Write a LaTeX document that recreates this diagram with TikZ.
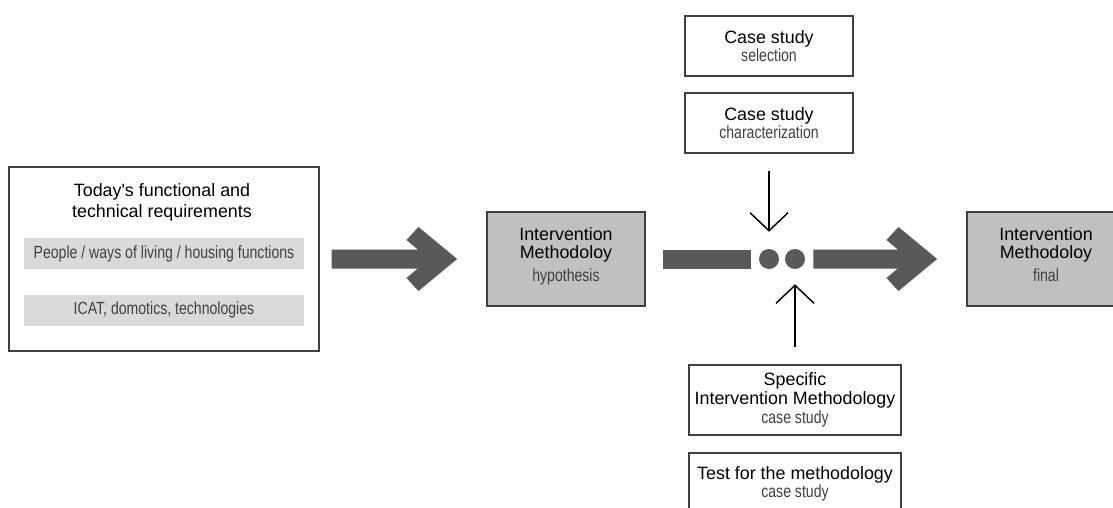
\documentclass[tikz,border=0pt]{standalone}
\usepackage{fontspec}
\setmainfont{Liberation Sans}
\newfontfamily\narrowfont[FakeStretch=0.8]{Liberation Sans}
\usetikzlibrary{arrows.meta, calc}
\definecolor{bordergray}{RGB}{64, 64, 64}
\definecolor{boxgray}{RGB}{192, 192, 192}
\definecolor{bargray}{RGB}{217, 217, 217}
\definecolor{arrowgray}{RGB}{89, 89, 89}
\definecolor{subgray}{RGB}{64, 64, 64}
\newcommand{\headfont}{\fontsize{13.4}{14}\selectfont}
\newcommand{\subfont}{\narrowfont\fontsize{13.2}{14}\selectfont\color{subgray}}

\begin{document}
\begin{tikzpicture}[x=0.75pt, y=-0.75pt,
        box/.style={rectangle, draw=bordergray, line width=0.8pt, align=center, font=\headfont, inner sep=0pt},
        casebox/.style={box, fill=white, minimum width=126pt, minimum height=45pt},
        methbox/.style={box, fill=boxgray, minimum width=118.5pt, minimum height=70.5pt, text depth=7pt},
        bar/.style={rectangle, fill=bargray, minimum width=210pt, minimum height=23.25pt, font=\subfont, inner sep=0pt},
        joint/.style={circle, fill=arrowgray, minimum size=15pt, inner sep=0pt},
        feed/.style={-{Straight Barb[length=13.5pt, width=28.5pt]}, line width=1.1pt},
        shaft/.style={arrowgray, line width=14.25pt},
        fatarrow/.style={to path={let \p1=(\tikztostart), \p2=(\tikztotarget) in
            (\x1+#1, \y2+7.125pt) -- (\x2-51.5pt, \y2+7.125pt) -- (\x2-60pt, \y2+14.25pt) -- (\x2-51pt, \y2+24pt)
            -- (\x2-22pt, \y2) -- (\x2-51pt, \y2-24pt) -- (\x2-60pt, \y2-14.25pt) -- (\x2-51.5pt, \y2-7.125pt)
            -- (\x1+#1, \y2-7.125pt) -- cycle}},
        fatarrow/.default=9pt
    ]
        \clip (0,0) rectangle (1113,507);

        \node[box, minimum width=232.5pt, minimum height=138pt] (req) at (164,259) {};
        \node[align=center, font={\fontsize{13.4}{15.75}\selectfont}] (reqtitle) at (162,202.5) {Today\textquotesingle s functional and\\technical requirements};
        \node[bar] (people) at (164,253.5) {People / ways of living / housing functions};
        \node[bar] (icat) at (164,310) {ICAT, domotics, technologies};

        \node[methbox] (hyp) at (566,259) {Intervention\\Methodoloy\\[3pt]{\subfont hypothesis}};
        \node[methbox] (final) at (1046,259) {Intervention\\Methodoloy\\[3pt]{\subfont final}};

        \node[casebox] (sel) at (769,46) {Case study\\{\subfont selection}};
        \node[casebox] (char) at (769,123) {Case study\\{\subfont characterization}};
        \node[box, minimum width=159pt, minimum height=52.5pt] (spec) at (795,400) {Specific\\Intervention Methodology\\{\subfont case study}};
        \node[box, minimum width=159pt, minimum height=46.5pt] (test) at (795,484) {Test for the methodology\\{\subfont case study}};

        \node[joint] (dota) at (769,259) {};
        \node[joint] (dotb) at (795,259) {};

        \fill[arrowgray] (req.east) to[fatarrow] (hyp.west);
        \draw[shaft, shorten <=12.75pt, shorten >=6pt] (hyp.east) -- (dota.west);
        \fill[arrowgray] (dotb.east) to[fatarrow=6pt] (final.west);

        \draw[feed, shorten <=12.75pt, shorten >=12.75pt] (char.south) -- (dota.north);
        \draw[feed, shorten <=12.75pt, shorten >=11.25pt] (spec.north) -- (dotb.south);
    \end{tikzpicture}
\end{document}
